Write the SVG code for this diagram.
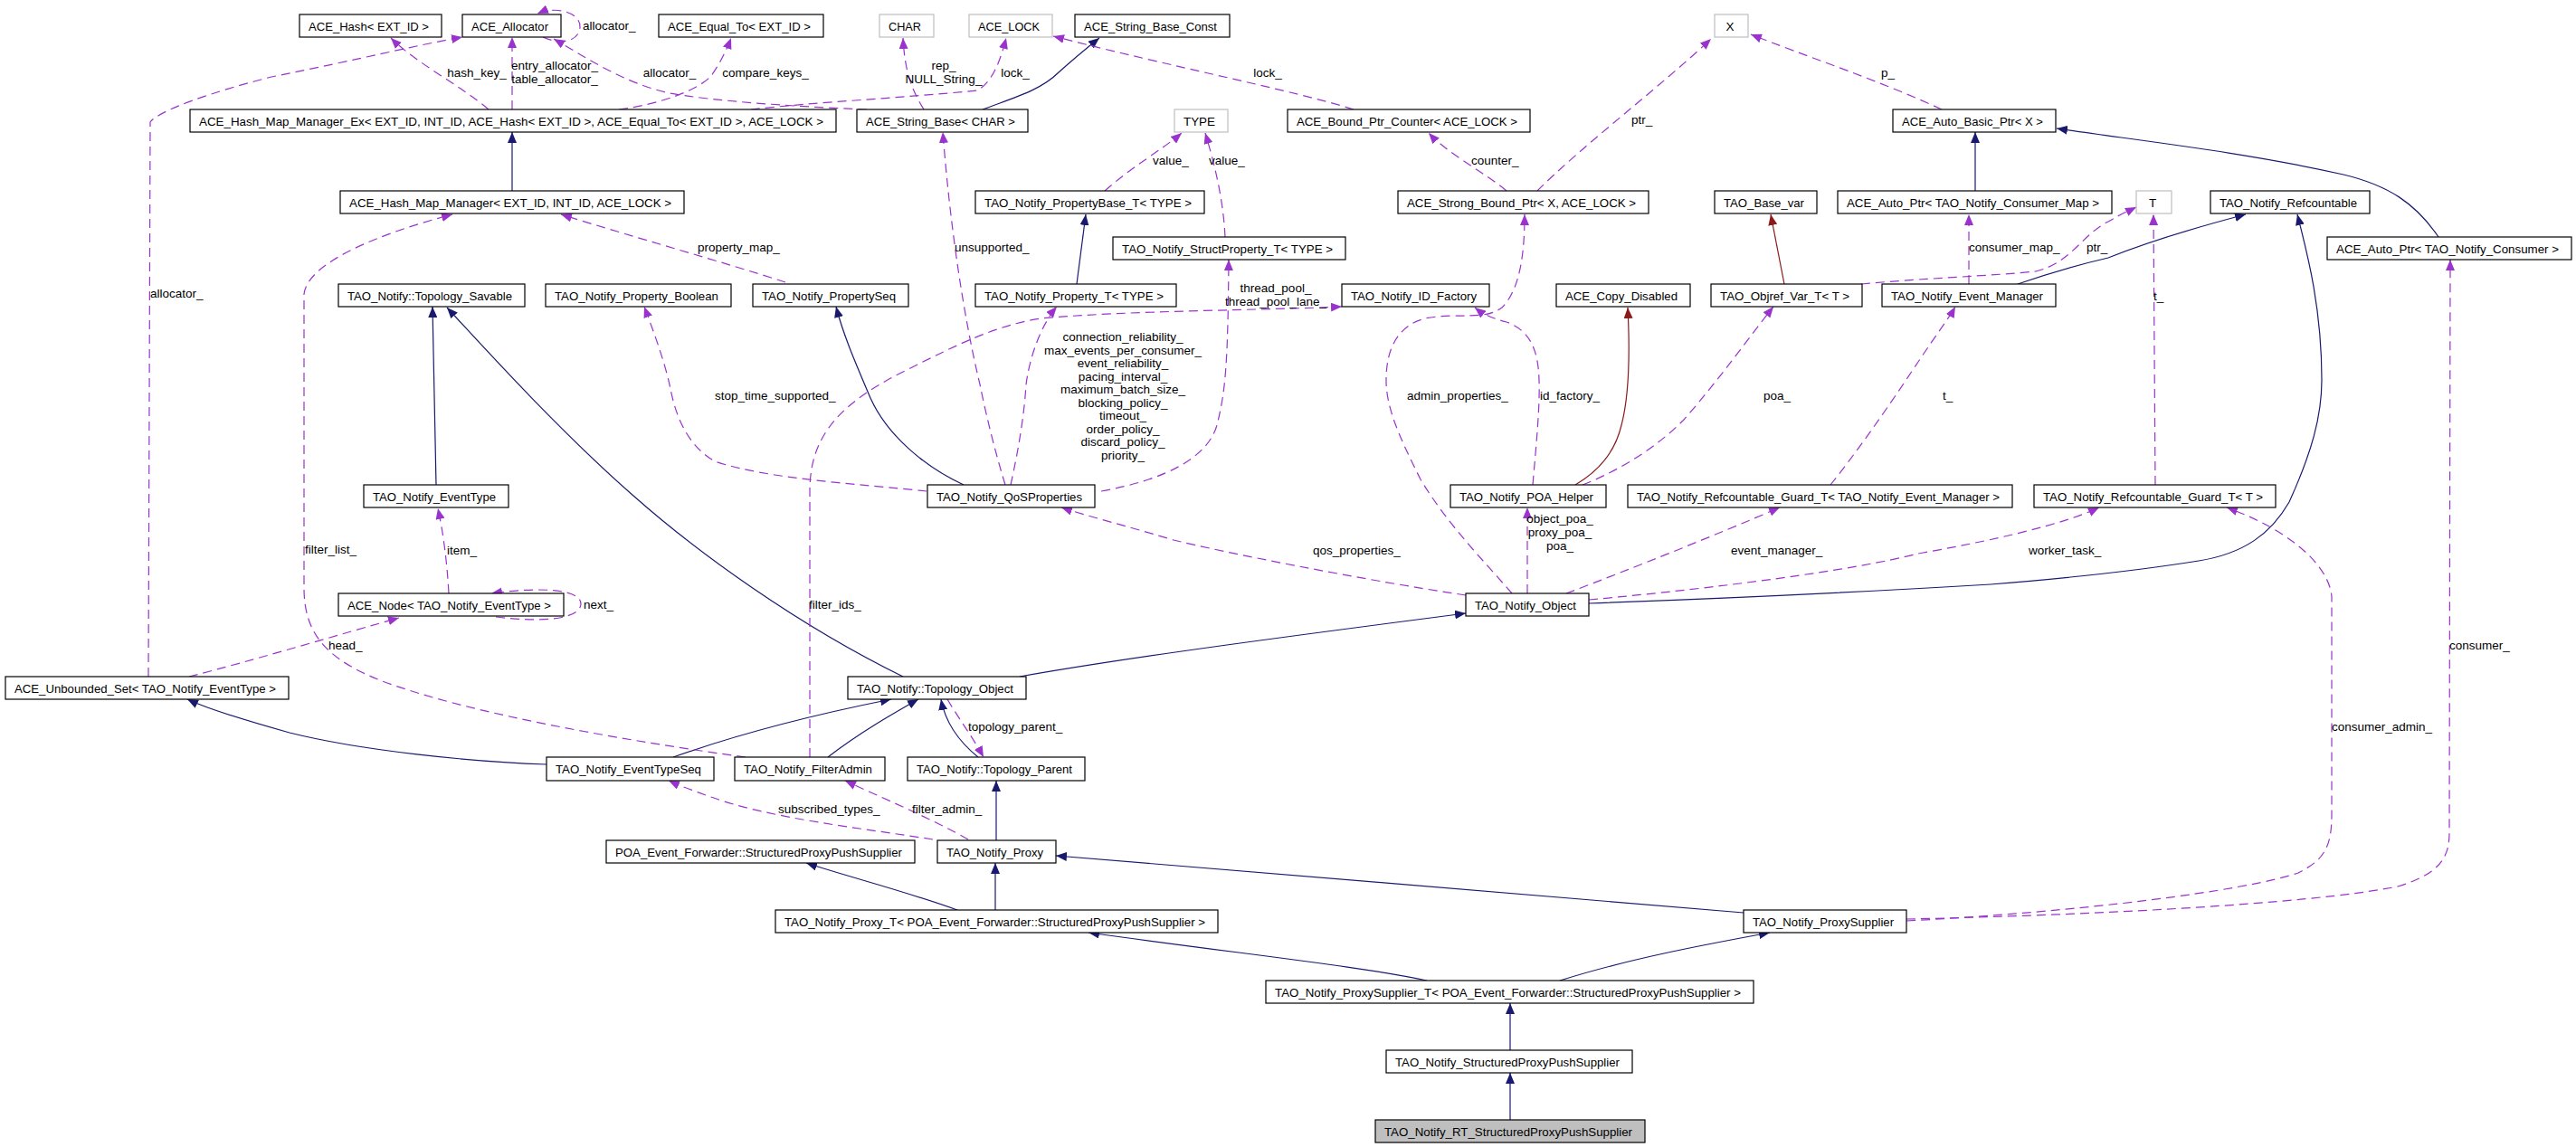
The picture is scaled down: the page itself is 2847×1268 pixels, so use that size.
<svg xmlns="http://www.w3.org/2000/svg" width="2847" height="1268" viewBox="0 0 2847 1268">
<style>
text{font-family:"Liberation Sans",Arial,sans-serif;font-size:13.5px;fill:#000}
.node rect{fill:#fff;stroke:#000;stroke-width:1.2}
.gray rect{stroke:#bfbfbf}
.hl rect{fill:#bfbfbf}
.inh{fill:none;stroke:#191970;stroke-width:1.2;marker-end:url(#an)}
.red{fill:none;stroke:#8b1a1a;stroke-width:1.2;marker-end:url(#ar)}
.use{fill:none;stroke:#9a32cd;stroke-width:1.2;stroke-dasharray:10,6;marker-end:url(#ap)}
.lbl text{font-size:13.5px}
</style>
<defs>
<marker id="an" viewBox="0 0 12 10" refX="12" refY="5" markerWidth="12" markerHeight="10" markerUnits="userSpaceOnUse" orient="auto"><path d="M0,0 L12,5 L0,10 z" fill="#191970"/></marker>
<marker id="ar" viewBox="0 0 12 10" refX="12" refY="5" markerWidth="12" markerHeight="10" markerUnits="userSpaceOnUse" orient="auto"><path d="M0,0 L12,5 L0,10 z" fill="#8b1a1a"/></marker>
<marker id="ap" viewBox="0 0 12 10" refX="12" refY="5" markerWidth="12" markerHeight="10" markerUnits="userSpaceOnUse" orient="auto"><path d="M0,0 L12,5 L0,10 z" fill="#9a32cd"/></marker>
</defs>
<rect width="2847" height="1268" fill="#fff"/>
<g id="connectors">
<path class="inh" d="M566,211 L566,146"/>
<path class="inh" d="M1086,121 C1120,108 1150,100 1170,80 C1190,62 1205,50 1215,42"/>
<path class="inh" d="M1190,314 L1200,237"/>
<path class="inh" d="M2183,211 L2183,146"/>
<path class="inh" d="M2695,262 C2670,225 2640,205 2590,193 C2480,168 2360,155 2273,142"/>
<path class="red" d="M1972,314 L1957,237"/>
<path class="red" d="M1741,536 C1765,522 1785,500 1792,470 C1800,440 1802,400 1799,340"/>
<path class="inh" d="M2230,314 C2270,300 2300,292 2330,285 C2380,265 2440,248 2482,237"/>
<path class="inh" d="M1756,667 C1950,660 2100,652 2200,646 C2300,638 2380,628 2430,620 C2480,612 2510,590 2530,555 C2555,500 2566,460 2566,420 C2566,340 2550,280 2539,237"/>
<path class="inh" d="M482,536 L478,339"/>
<path class="inh" d="M998,748 C880,690 770,610 700,548 C620,478 540,390 494,340"/>
<path class="inh" d="M1065,536 C1020,515 980,480 962,440 C945,400 932,370 924,339"/>
<path class="inh" d="M1127,748 C1250,726 1450,700 1620,678"/>
<path class="inh" d="M744,837 C820,810 900,790 985,773"/>
<path class="inh" d="M915,837 C950,810 985,790 1015,773"/>
<path class="inh" d="M1081,837 C1060,820 1045,800 1040,773"/>
<path class="inh" d="M604,845 C520,842 400,830 320,810 C270,796 230,784 207,773"/>
<path class="inh" d="M1101,929 L1101,863"/>
<path class="inh" d="M1058,1006 C1000,985 940,970 891,954"/>
<path class="inh" d="M1100,1006 L1100,954"/>
<path class="inh" d="M1927,1009 C1700,990 1400,965 1167,946"/>
<path class="inh" d="M1577,1084 C1500,1068 1400,1058 1203,1031"/>
<path class="inh" d="M1724,1084 C1800,1060 1880,1045 1956,1031"/>
<path class="inh" d="M1669,1161 L1669,1109"/>
<path class="inh" d="M1669,1238 L1669,1186"/>

<path class="use" d="M600,41 C620,50 640,46 641,30 C642,14 615,6 594,15"/>
<path class="use" d="M566,121 L566,41"/>
<path class="use" d="M540,121 C510,95 460,70 432,42"/>
<path class="use" d="M958,121 C880,118 790,112 740,103 C690,92 650,65 612,43"/>
<path class="use" d="M684,121 C730,115 770,100 785,85 C795,72 803,55 808,42"/>
<path class="use" d="M830,121 C900,113 1000,108 1080,100 C1098,90 1106,65 1112,42"/>
<path class="use" d="M1021,121 C1008,100 1000,80 998,42"/>
<path class="use" d="M1496,121 C1430,100 1300,75 1164,40"/>
<path class="use" d="M1665,211 C1640,190 1600,170 1579,147"/>
<path class="use" d="M1699,211 C1750,160 1830,100 1891,43"/>
<path class="use" d="M2146,121 C2080,90 1990,60 1935,38"/>
<path class="use" d="M1221,211 C1250,185 1285,165 1306,147"/>
<path class="use" d="M1354,262 C1352,220 1342,180 1332,147"/>
<path class="use" d="M868,312 C800,290 700,262 620,237"/>
<path class="use" d="M824,837 C700,820 520,790 420,752 C360,728 336,700 336,650 L336,325 C340,290 420,258 500,237"/>
<path class="use" d="M164,748 L166,135 C175,122 240,100 300,85 C400,65 460,50 511,41"/>
<path class="use" d="M548,682 C600,688 640,685 642,668 C643,652 600,648 543,656"/>
<path class="use" d="M496,656 C494,620 490,590 484,562"/>
<path class="use" d="M209,748 C280,730 380,700 441,683"/>
<path class="use" d="M1024,543 C950,535 850,530 790,510 C755,490 745,450 741,430 C735,400 720,360 712,339"/>
<path class="use" d="M1111,536 C1100,500 1090,460 1083,425 C1065,350 1050,250 1042,146"/>
<path class="use" d="M1117,536 C1125,500 1132,460 1134,425 C1138,395 1150,360 1168,339"/>
<path class="use" d="M1217,543 C1290,530 1335,505 1345,470 C1355,430 1357,400 1358,287"/>
<path class="use" d="M895,837 L895,540 C896,480 930,445 1000,410 C1060,380 1100,360 1150,352 C1250,343 1400,343 1483,339"/>
<path class="use" d="M1694,536 C1698,490 1702,450 1701,420 C1700,385 1690,365 1665,356 C1650,352 1640,348 1630,340"/>
<path class="use" d="M1671,656 C1640,620 1600,580 1570,530 C1545,480 1532,450 1532,420 C1532,385 1545,360 1575,352 C1610,345 1640,355 1660,340 C1680,320 1685,280 1685,237"/>
<path class="use" d="M1749,536 C1790,520 1830,495 1860,465 C1900,420 1935,370 1960,339"/>
<path class="use" d="M1688,656 L1688,561"/>
<path class="use" d="M1731,656 C1800,630 1900,590 1967,561"/>
<path class="use" d="M1756,663 C1900,650 2050,630 2120,612 C2200,598 2280,580 2320,561"/>
<path class="use" d="M2023,536 C2060,490 2100,430 2120,400 C2140,370 2155,350 2161,339"/>
<path class="use" d="M2382,536 L2380,237"/>
<path class="use" d="M2176,314 L2176,237"/>
<path class="use" d="M2057,314 C2120,308 2200,305 2250,300 C2290,290 2300,260 2330,245 C2345,236 2355,232 2361,229"/>
<path class="use" d="M2107,1016 C2300,1012 2550,1000 2650,980 C2700,965 2707,945 2707,920 L2708,287"/>
<path class="use" d="M2107,1018 C2300,1008 2480,985 2540,965 C2570,950 2577,935 2577,900 L2577,660 C2575,630 2540,590 2461,561"/>
<path class="use" d="M1620,658 C1500,640 1350,610 1297,597 C1240,580 1200,570 1173,561"/>
<path class="use" d="M1031,928 C950,915 850,905 783,880 C760,872 750,868 739,863"/>
<path class="use" d="M1070,928 C1030,905 970,880 934,863"/>
<path class="use" d="M1047,773 C1060,795 1075,815 1087,837"/>

<g class="lbl">
<text x="644" y="33">allocator_</text>
<text x="613" y="77" text-anchor="middle">entry_allocator_</text>
<text x="613" y="92" text-anchor="middle">table_allocator_</text>
<text x="527" y="85" text-anchor="middle">hash_key_</text>
<text x="740" y="85" text-anchor="middle">allocator_</text>
<text x="846" y="85" text-anchor="middle">compare_keys_</text>
<text x="1122" y="85" text-anchor="middle">lock_</text>
<text x="1043" y="77" text-anchor="middle">rep_</text>
<text x="1043" y="92" text-anchor="middle">NULL_String_</text>
<text x="1401" y="85" text-anchor="middle">lock_</text>
<text x="1626" y="182">counter_</text>
<text x="1803" y="137">ptr_</text>
<text x="2079" y="85">p_</text>
<text x="1274" y="182">value_</text>
<text x="1336" y="182">value_</text>
<text x="771" y="278">property_map_</text>
<text x="337" y="612">filter_list_</text>
<text x="166" y="329">allocator_</text>
<text x="645" y="673">next_</text>
<text x="494" y="613">item_</text>
<text x="363" y="718">head_</text>
<text x="790" y="442">stop_time_supported_</text>
<text x="1055" y="278">unsupported_</text>
<text x="1241" y="377" text-anchor="middle">connection_reliability_</text>
<text x="1241" y="391.5" text-anchor="middle">max_events_per_consumer_</text>
<text x="1241" y="406" text-anchor="middle">event_reliability_</text>
<text x="1241" y="420.5" text-anchor="middle">pacing_interval_</text>
<text x="1241" y="435" text-anchor="middle">maximum_batch_size_</text>
<text x="1241" y="449.5" text-anchor="middle">blocking_policy_</text>
<text x="1241" y="464" text-anchor="middle">timeout_</text>
<text x="1241" y="478.5" text-anchor="middle">order_policy_</text>
<text x="1241" y="493" text-anchor="middle">discard_policy_</text>
<text x="1241" y="507.5" text-anchor="middle">priority_</text>
<text x="1410" y="323" text-anchor="middle">thread_pool_</text>
<text x="1410" y="337.5" text-anchor="middle">thread_pool_lane_</text>
<text x="894" y="673">filter_ids_</text>
<text x="1702" y="442">id_factory_</text>
<text x="1555" y="442">admin_properties_</text>
<text x="1949" y="442">poa_</text>
<text x="1724" y="578" text-anchor="middle">object_poa_</text>
<text x="1724" y="593" text-anchor="middle">proxy_poa_</text>
<text x="1724" y="608" text-anchor="middle">poa_</text>
<text x="1913" y="613">event_manager_</text>
<text x="2242" y="613">worker_task_</text>
<text x="2147" y="442">t_</text>
<text x="2380" y="332">t_</text>
<text x="2176" y="278">consumer_map_</text>
<text x="2306" y="278">ptr_</text>
<text x="2707" y="718">consumer_</text>
<text x="2577" y="808">consumer_admin_</text>
<text x="1451" y="613">qos_properties_</text>
<text x="860" y="899">subscribed_types_</text>
<text x="1008" y="899">filter_admin_</text>
<text x="1070" y="808">topology_parent_</text>
</g>
</g>

<g id="n1" class="node"><rect x="331" y="16" width="157" height="25"/><text x="341" y="33.5" textLength="133" lengthAdjust="spacingAndGlyphs">ACE_Hash&lt; EXT_ID &gt;</text></g>
<g id="n2" class="node"><rect x="511" y="16" width="109" height="25"/><text x="521" y="33.5" textLength="85" lengthAdjust="spacingAndGlyphs">ACE_Allocator</text></g>
<g id="n3" class="node"><rect x="728" y="16" width="182" height="25"/><text x="738" y="33.5" textLength="158" lengthAdjust="spacingAndGlyphs">ACE_Equal_To&lt; EXT_ID &gt;</text></g>
<g id="n4" class="node gray"><rect x="972" y="16" width="60" height="25"/><text x="982" y="33.5" textLength="36" lengthAdjust="spacingAndGlyphs">CHAR</text></g>
<g id="n5" class="node gray"><rect x="1071" y="16" width="92" height="25"/><text x="1081" y="33.5" textLength="68" lengthAdjust="spacingAndGlyphs">ACE_LOCK</text></g>
<g id="n6" class="node"><rect x="1188" y="16" width="171" height="25"/><text x="1198" y="33.5" textLength="147" lengthAdjust="spacingAndGlyphs">ACE_String_Base_Const</text></g>
<g id="n7" class="node gray"><rect x="1895" y="16" width="37" height="25"/><text x="1912" y="33.5" text-anchor="middle">X</text></g>
<g id="n8" class="node"><rect x="210" y="121" width="714" height="25"/><text x="220" y="138.5" textLength="690" lengthAdjust="spacingAndGlyphs">ACE_Hash_Map_Manager_Ex&lt; EXT_ID, INT_ID, ACE_Hash&lt; EXT_ID &gt;, ACE_Equal_To&lt; EXT_ID &gt;, ACE_LOCK &gt;</text></g>
<g id="n9" class="node"><rect x="947" y="121" width="189" height="25"/><text x="957" y="138.5" textLength="165" lengthAdjust="spacingAndGlyphs">ACE_String_Base&lt; CHAR &gt;</text></g>
<g id="n10" class="node gray"><rect x="1298" y="121" width="59" height="25"/><text x="1308" y="138.5" textLength="35" lengthAdjust="spacingAndGlyphs">TYPE</text></g>
<g id="n11" class="node"><rect x="1423" y="121" width="268" height="25"/><text x="1433" y="138.5" textLength="244" lengthAdjust="spacingAndGlyphs">ACE_Bound_Ptr_Counter&lt; ACE_LOCK &gt;</text></g>
<g id="n12" class="node"><rect x="2092" y="121" width="180" height="25"/><text x="2102" y="138.5" textLength="156" lengthAdjust="spacingAndGlyphs">ACE_Auto_Basic_Ptr&lt; X &gt;</text></g>
<g id="n13" class="node"><rect x="376" y="211" width="380" height="25"/><text x="386" y="228.5" textLength="356" lengthAdjust="spacingAndGlyphs">ACE_Hash_Map_Manager&lt; EXT_ID, INT_ID, ACE_LOCK &gt;</text></g>
<g id="n14" class="node"><rect x="1078" y="211" width="253" height="25"/><text x="1088" y="228.5" textLength="229" lengthAdjust="spacingAndGlyphs">TAO_Notify_PropertyBase_T&lt; TYPE &gt;</text></g>
<g id="n15" class="node"><rect x="1545" y="211" width="277" height="25"/><text x="1555" y="228.5" textLength="253" lengthAdjust="spacingAndGlyphs">ACE_Strong_Bound_Ptr&lt; X, ACE_LOCK &gt;</text></g>
<g id="n16" class="node"><rect x="1895" y="211" width="113" height="25"/><text x="1905" y="228.5" textLength="89" lengthAdjust="spacingAndGlyphs">TAO_Base_var</text></g>
<g id="n17" class="node"><rect x="2031" y="211" width="303" height="25"/><text x="2041" y="228.5" textLength="279" lengthAdjust="spacingAndGlyphs">ACE_Auto_Ptr&lt; TAO_Notify_Consumer_Map &gt;</text></g>
<g id="n18" class="node gray"><rect x="2361" y="211" width="39" height="25"/><text x="2379" y="228.5" text-anchor="middle">T</text></g>
<g id="n19" class="node"><rect x="2443" y="211" width="176" height="25"/><text x="2453" y="228.5" textLength="152" lengthAdjust="spacingAndGlyphs">TAO_Notify_Refcountable</text></g>
<g id="n20" class="node"><rect x="1230" y="262" width="257" height="25"/><text x="1240" y="279.5" textLength="233" lengthAdjust="spacingAndGlyphs">TAO_Notify_StructProperty_T&lt; TYPE &gt;</text></g>
<g id="n21" class="node"><rect x="2572" y="262" width="270" height="25"/><text x="2582" y="279.5" textLength="246" lengthAdjust="spacingAndGlyphs">ACE_Auto_Ptr&lt; TAO_Notify_Consumer &gt;</text></g>
<g id="n22" class="node"><rect x="374" y="314" width="206" height="25"/><text x="384" y="331.5" textLength="182" lengthAdjust="spacingAndGlyphs">TAO_Notify::Topology_Savable</text></g>
<g id="n23" class="node"><rect x="603" y="314" width="205" height="25"/><text x="613" y="331.5" textLength="181" lengthAdjust="spacingAndGlyphs">TAO_Notify_Property_Boolean</text></g>
<g id="n24" class="node"><rect x="832" y="314" width="172" height="25"/><text x="842" y="331.5" textLength="148" lengthAdjust="spacingAndGlyphs">TAO_Notify_PropertySeq</text></g>
<g id="n25" class="node"><rect x="1078" y="314" width="222" height="25"/><text x="1088" y="331.5" textLength="198" lengthAdjust="spacingAndGlyphs">TAO_Notify_Property_T&lt; TYPE &gt;</text></g>
<g id="n26" class="node"><rect x="1483" y="314" width="163" height="25"/><text x="1493" y="331.5" textLength="139" lengthAdjust="spacingAndGlyphs">TAO_Notify_ID_Factory</text></g>
<g id="n27" class="node"><rect x="1720" y="314" width="148" height="25"/><text x="1730" y="331.5" textLength="124" lengthAdjust="spacingAndGlyphs">ACE_Copy_Disabled</text></g>
<g id="n28" class="node"><rect x="1891" y="314" width="167" height="25"/><text x="1901" y="331.5" textLength="143" lengthAdjust="spacingAndGlyphs">TAO_Objref_Var_T&lt; T &gt;</text></g>
<g id="n29" class="node"><rect x="2080" y="314" width="192" height="25"/><text x="2090" y="331.5" textLength="168" lengthAdjust="spacingAndGlyphs">TAO_Notify_Event_Manager</text></g>
<g id="n30" class="node"><rect x="402" y="536" width="160" height="25"/><text x="412" y="553.5" textLength="136" lengthAdjust="spacingAndGlyphs">TAO_Notify_EventType</text></g>
<g id="n31" class="node"><rect x="1025" y="536" width="185" height="25"/><text x="1035" y="553.5" textLength="161" lengthAdjust="spacingAndGlyphs">TAO_Notify_QoSProperties</text></g>
<g id="n32" class="node"><rect x="1603" y="536" width="172" height="25"/><text x="1613" y="553.5" textLength="148" lengthAdjust="spacingAndGlyphs">TAO_Notify_POA_Helper</text></g>
<g id="n33" class="node"><rect x="1799" y="536" width="425" height="25"/><text x="1809" y="553.5" textLength="401" lengthAdjust="spacingAndGlyphs">TAO_Notify_Refcountable_Guard_T&lt; TAO_Notify_Event_Manager &gt;</text></g>
<g id="n34" class="node"><rect x="2248" y="536" width="267" height="25"/><text x="2258" y="553.5" textLength="243" lengthAdjust="spacingAndGlyphs">TAO_Notify_Refcountable_Guard_T&lt; T &gt;</text></g>
<g id="n35" class="node"><rect x="374" y="656" width="249" height="25"/><text x="384" y="673.5" textLength="225" lengthAdjust="spacingAndGlyphs">ACE_Node&lt; TAO_Notify_EventType &gt;</text></g>
<g id="n36" class="node"><rect x="1620" y="656" width="136" height="25"/><text x="1630" y="673.5" textLength="112" lengthAdjust="spacingAndGlyphs">TAO_Notify_Object</text></g>
<g id="n37" class="node"><rect x="6" y="748" width="313" height="25"/><text x="16" y="765.5" textLength="289" lengthAdjust="spacingAndGlyphs">ACE_Unbounded_Set&lt; TAO_Notify_EventType &gt;</text></g>
<g id="n38" class="node"><rect x="937" y="748" width="197" height="25"/><text x="947" y="765.5" textLength="173" lengthAdjust="spacingAndGlyphs">TAO_Notify::Topology_Object</text></g>
<g id="n39" class="node"><rect x="604" y="837" width="185" height="26"/><text x="614" y="855" textLength="161" lengthAdjust="spacingAndGlyphs">TAO_Notify_EventTypeSeq</text></g>
<g id="n40" class="node"><rect x="812" y="837" width="166" height="26"/><text x="822" y="855" textLength="142" lengthAdjust="spacingAndGlyphs">TAO_Notify_FilterAdmin</text></g>
<g id="n41" class="node"><rect x="1003" y="837" width="196" height="26"/><text x="1013" y="855" textLength="172" lengthAdjust="spacingAndGlyphs">TAO_Notify::Topology_Parent</text></g>
<g id="n42" class="node"><rect x="670" y="929" width="341" height="25"/><text x="680" y="946.5" textLength="317" lengthAdjust="spacingAndGlyphs">POA_Event_Forwarder::StructuredProxyPushSupplier</text></g>
<g id="n43" class="node"><rect x="1036" y="929" width="131" height="25"/><text x="1046" y="946.5" textLength="107" lengthAdjust="spacingAndGlyphs">TAO_Notify_Proxy</text></g>
<g id="n44" class="node"><rect x="857" y="1006" width="489" height="25"/><text x="867" y="1023.5" textLength="465" lengthAdjust="spacingAndGlyphs">TAO_Notify_Proxy_T&lt; POA_Event_Forwarder::StructuredProxyPushSupplier &gt;</text></g>
<g id="n45" class="node"><rect x="1927" y="1006" width="180" height="25"/><text x="1937" y="1023.5" textLength="156" lengthAdjust="spacingAndGlyphs">TAO_Notify_ProxySupplier</text></g>
<g id="n46" class="node"><rect x="1399" y="1084" width="539" height="25"/><text x="1409" y="1101.5" textLength="515" lengthAdjust="spacingAndGlyphs">TAO_Notify_ProxySupplier_T&lt; POA_Event_Forwarder::StructuredProxyPushSupplier &gt;</text></g>
<g id="n47" class="node"><rect x="1532" y="1161" width="272" height="25"/><text x="1542" y="1178.5" textLength="248" lengthAdjust="spacingAndGlyphs">TAO_Notify_StructuredProxyPushSupplier</text></g>
<g id="n48" class="node hl"><rect x="1520" y="1238" width="298" height="25"/><text x="1530" y="1255.5" textLength="274" lengthAdjust="spacingAndGlyphs">TAO_Notify_RT_StructuredProxyPushSupplier</text></g>
</svg>
